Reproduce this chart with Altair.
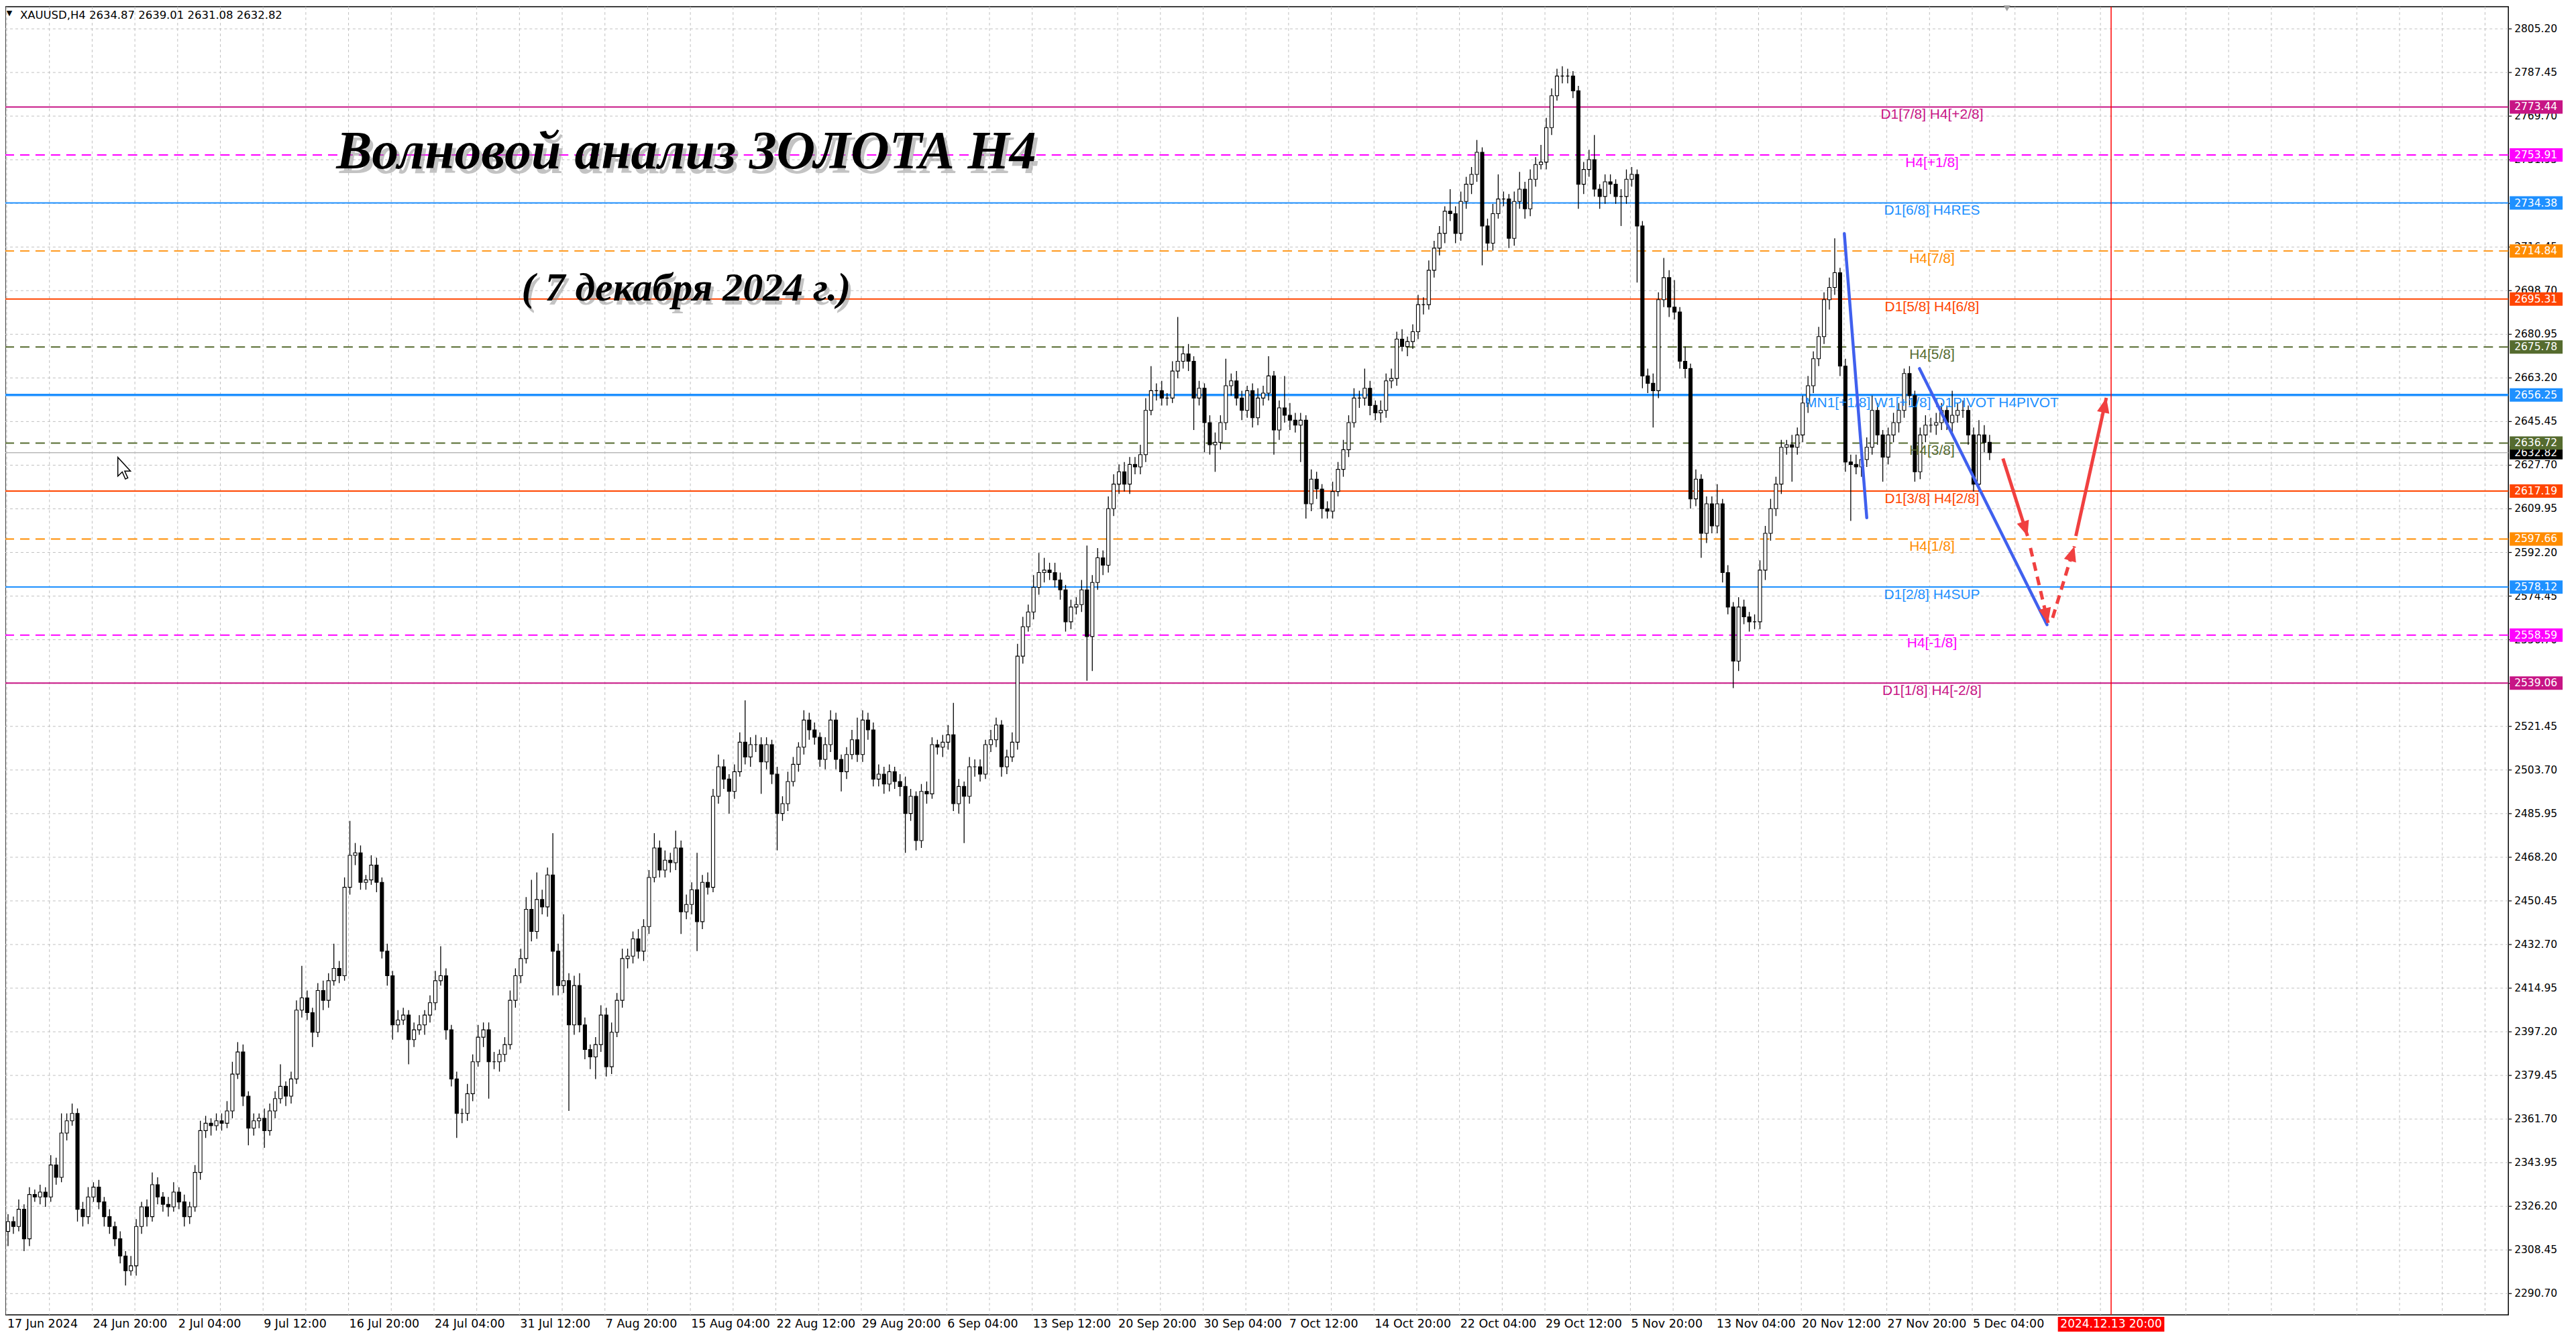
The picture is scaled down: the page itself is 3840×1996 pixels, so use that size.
import altair as alt
import pandas as pd

# XAUUSD H4, 17 Jun - 6 Dec 2024 (each candle here spans two H4 bars)
first_open = 2316
closes = [
    2320, 2318, 2325, 2313, 2331, 2330, 2332, 2330, 2343, 2338,
    2356, 2361, 2364, 2325, 2322, 2330, 2334, 2328, 2322, 2318,
    2313, 2306, 2300, 2302, 2318, 2326, 2322, 2335, 2330, 2327,
    2326, 2332, 2328, 2322, 2326, 2340, 2357, 2360, 2359, 2361,
    2360, 2365, 2380, 2389, 2371, 2358, 2361, 2362, 2357, 2365,
    2370, 2375, 2371, 2378, 2406, 2411, 2405, 2397, 2414, 2410,
    2418, 2423, 2420, 2456, 2469, 2470, 2458, 2459, 2465, 2458,
    2430, 2420, 2400, 2402, 2404, 2394, 2398, 2400, 2404, 2409,
    2418, 2420, 2398, 2378, 2364, 2364, 2372, 2385, 2395, 2398,
    2385, 2385, 2388, 2392, 2410, 2420, 2427, 2447, 2438, 2451,
    2448, 2461, 2430, 2416, 2418, 2400, 2416, 2400, 2390, 2387,
    2392, 2404, 2383, 2397, 2410, 2427, 2428, 2435, 2430, 2440,
    2460, 2472, 2463, 2467, 2466, 2472, 2446, 2449, 2455, 2442,
    2458, 2456, 2493, 2505, 2500, 2495, 2503, 2515, 2509, 2514,
    2514, 2507, 2514, 2502, 2486, 2490, 2499, 2506, 2513, 2524,
    2520, 2517, 2508, 2514, 2524, 2508, 2503, 2510, 2516, 2510,
    2524, 2520, 2500, 2502, 2498, 2503, 2499, 2497, 2486, 2493,
    2475, 2495, 2494, 2514, 2513, 2515, 2518, 2490, 2497, 2493,
    2505, 2505, 2502, 2514, 2516, 2522, 2505, 2509, 2515, 2550,
    2562, 2568, 2578, 2584, 2585, 2584, 2581, 2577, 2564, 2570,
    2571, 2577, 2558, 2580, 2590, 2587, 2610, 2620, 2625, 2620,
    2628, 2627, 2632, 2650, 2658, 2658, 2655, 2655, 2666, 2670,
    2673, 2670, 2655, 2659, 2645, 2636, 2637, 2645, 2660, 2662,
    2655, 2650, 2658, 2647, 2655, 2657, 2664, 2642, 2651, 2648,
    2646, 2644, 2646, 2612, 2622, 2618, 2610, 2609, 2617, 2626,
    2634, 2645, 2655, 2655, 2659, 2652, 2649, 2650, 2662, 2663,
    2679, 2676, 2678, 2682, 2693, 2693, 2707, 2716, 2722, 2731,
    2730, 2722, 2735, 2742, 2746, 2755, 2725, 2718, 2730, 2736,
    2736, 2720, 2735, 2740, 2732, 2744, 2750, 2751, 2765, 2778,
    2786, 2786, 2786, 2780, 2742, 2748, 2752, 2740, 2737, 2743,
    2742, 2737, 2737, 2744, 2746, 2725, 2664, 2661, 2658, 2695,
    2704, 2692, 2690, 2670, 2667, 2614, 2622, 2600, 2612, 2603,
    2612, 2584, 2570, 2548, 2570, 2566, 2564, 2564, 2585, 2600,
    2610, 2620, 2635, 2636, 2635, 2640, 2653, 2660, 2671, 2680,
    2695, 2700, 2706, 2668, 2629, 2628, 2627, 2630, 2635, 2650,
    2640, 2631, 2640, 2645, 2650, 2665, 2656, 2625, 2640, 2644,
    2644, 2645, 2650, 2645, 2648, 2650, 2650, 2640, 2620, 2640,
    2637, 2632.82,
]
upper_wick = [
    3, 2, 4, 2, 3, 2, 3, 2, 4, 3, 8, 3, 4, 2, 3, 4, 2, 3, 2, 3,
    2, 3, 2, 4, 3, 2, 3, 5, 3, 2, 3, 4, 2, 3, 2, 3, 4, 3, 2, 3,
    3, 4, 5, 4, 3, 2, 3, 2, 4, 3, 3, 9, 2, 3, 4, 13, 3, 2, 3, 4,
    3, 10, 3, 4, 14, 4, 3, 2, 4, 3, 2, 3, 2, 4, 3, 2, 3, 4, 2, 3,
    4, 12, 3, 2, 3, 2, 4, 3, 5, 3, 3, 4, 2, 3, 4, 3, 4, 5, 12, 11,
    4, 3, 17, 3, 27, 3, 4, 5, 3, 2, 3, 4, 3, 4, 3, 4, 3, 3, 4, 3,
    3, 6, 3, 4, 3, 7, 3, 4, 3, 15, 3, 4, 3, 5, 3, 2, 3, 4, 17, 3,
    4, 3, 3, 2, 3, 3, 4, 3, 2, 4, 3, 3, 2, 3, 4, 3, 2, 3, 4, 9,
    4, 3, 3, 4, 3, 3, 2, 3, 4, 3, 2, 3, 4, 3, 2, 3, 4, 13, 3, 2,
    4, 3, 3, 2, 4, 3, 2, 3, 4, 5, 4, 3, 5, 8, 5, 3, 4, 3, 2, 3,
    3, 4, 18, 3, 4, 3, 5, 4, 3, 4, 3, 3, 4, 5, 10, 3, 4, 2, 4, 18,
    3, 4, 2, 3, 2, 3, 4, 3, 11, 3, 4, 3, 2, 3, 4, 3, 8, 2, 3, 13,
    5, 3, 3, 2, 4, 3, 2, 3, 4, 3, 4, 3, 4, 3, 8, 3, 2, 4, 3, 4,
    3, 4, 2, 3, 4, 3, 4, 3, 3, 2, 9, 3, 4, 3, 3, 5, 2, 3, 4, 10,
    3, 2, 4, 7, 3, 4, 3, 7, 4, 3, 3, 4, 3, 2, 2, 3, 4, 10, 2, 3,
    3, 2, 3, 4, 3, 2, 2, 3, 4, 3, 8, 3, 11, 2, 6, 2, 4, 2, 3, 3,
    8, 2, 3, 2, 4, 3, 2, 3, 4, 3, 4, 3, 3, 2, 4, 3, 3, 4, 3, 4,
    3, 4, 14, 2, 3, 3, 4, 3, 4, 6, 3, 2, 3, 4, 3, 2, 3, 2, 3, 4,
    3, 4, 3, 2, 10, 3, 4, 2, 3, 6, 4, 3,
]
lower_wick = [
    6, 3, 2, 5, 3, 2, 3, 4, 2, 3, 2, 3, 2, 5, 4, 3, 2, 3, 4, 3,
    3, 3, 6, 2, 4, 3, 4, 2, 3, 3, 4, 2, 3, 4, 3, 2, 3, 3, 4, 2,
    3, 2, 3, 2, 4, 7, 3, 3, 7, 2, 3, 2, 4, 3, 2, 3, 3, 6, 2, 4,
    3, 2, 3, 2, 3, 4, 3, 3, 2, 4, 3, 4, 6, 3, 2, 10, 3, 2, 4, 3,
    3, 2, 4, 3, 10, 4, 3, 3, 2, 4, 15, 3, 4, 3, 2, 3, 3, 2, 4, 3,
    3, 4, 18, 4, 3, 35, 4, 3, 4, 5, 9, 3, 4, 3, 2, 3, 4, 3, 3, 4,
    3, 2, 3, 3, 4, 3, 9, 3, 4, 12, 3, 3, 2, 3, 4, 9, 3, 2, 3, 4,
    3, 13, 3, 4, 15, 3, 3, 2, 3, 3, 4, 3, 3, 4, 3, 4, 8, 3, 2, 3,
    3, 4, 3, 3, 4, 3, 3, 4, 16, 3, 4, 3, 4, 2, 3, 4, 3, 3, 4, 19,
    3, 4, 3, 2, 3, 3, 4, 3, 2, 3, 3, 2, 3, 3, 4, 3, 3, 4, 4, 3,
    3, 3, 18, 14, 3, 4, 3, 3, 4, 3, 4, 3, 3, 3, 2, 4, 3, 3, 2, 3,
    3, 4, 13, 3, 12, 4, 11, 3, 3, 4, 3, 4, 3, 4, 3, 3, 3, 10, 4, 3,
    4, 3, 15, 6, 3, 4, 4, 3, 3, 2, 3, 3, 2, 4, 3, 4, 3, 4, 3, 3,
    3, 2, 4, 3, 3, 4, 2, 3, 3, 4, 3, 4, 3, 3, 4, 3, 16, 3, 3, 2,
    3, 4, 3, 3, 4, 3, 3, 2, 3, 3, 2, 3, 3, 3, 10, 4, 3, 3, 5, 3,
    4, 3, 12, 3, 3, 23, 5, 4, 15, 3, 3, 4, 3, 3, 4, 4, 3, 10, 4, 3,
    3, 4, 3, 11, 4, 3, 4, 3, 3, 4, 3, 3, 4, 3, 14, 3, 3, 4, 3, 3,
    3, 4, 3, 4, 4, 23, 3, 4, 3, 3, 4, 10, 3, 3, 4, 3, 4, 4, 3, 3,
    3, 4, 3, 3, 4, 3, 3, 4, 3, 3, 4, 3,
]

# Murrey math levels drawn on the chart
level_prices = [2773.44, 2753.91, 2734.38, 2714.84, 2695.31, 2675.78, 2656.25,
                2636.72, 2617.19, 2597.66, 2578.12, 2558.59, 2539.06]
level_names = ["D1[7/8] H4[+2/8]", "H4[+1/8]", "D1[6/8] H4RES", "H4[7/8]",
               "D1[5/8] H4[6/8]", "H4[5/8]", "MN1[+1/8] W1[+1/8] D1PIVOT H4PIVOT",
               "H4[3/8]", "D1[3/8] H4[2/8]", "H4[1/8]", "D1[2/8] H4SUP",
               "H4[-1/8]", "D1[1/8] H4[-2/8]"]
level_colors = ["#C71585", "#FF00FF", "#1E90FF", "#FF8C00", "#FF4500", "#556B2F",
                "#1E90FF", "#556B2F", "#FF4500", "#FF8C00", "#1E90FF", "#FF00FF",
                "#C71585"]
level_dashed = [False, True, False, True, False, True, False,
                True, False, True, False, True, False]

price_ticks = [2805.20, 2787.45, 2769.70, 2751.95, 2734.20, 2716.45, 2698.70,
               2680.95, 2663.20, 2645.45, 2627.70, 2609.95, 2592.20, 2574.45,
               2556.70, 2538.95, 2521.45, 2503.70, 2485.95, 2468.20, 2450.45,
               2432.70, 2414.95, 2397.20, 2379.45, 2361.70, 2343.95, 2326.20,
               2308.45, 2290.70]
date_labels = ["17 Jun 2024", "24 Jun 20:00", "2 Jul 04:00", "9 Jul 12:00",
               "16 Jul 20:00", "24 Jul 04:00", "31 Jul 12:00", "7 Aug 20:00",
               "15 Aug 04:00", "22 Aug 12:00", "29 Aug 20:00", "6 Sep 04:00",
               "13 Sep 12:00", "20 Sep 20:00", "30 Sep 04:00", "7 Oct 12:00",
               "14 Oct 20:00", "22 Oct 04:00", "29 Oct 12:00", "5 Nov 20:00",
               "13 Nov 04:00", "20 Nov 12:00", "27 Nov 20:00", "5 Dec 04:00"]
bars_per_label = 32
current_price = 2632.82
future_bar = 788
future_label = "2024.12.13 20:00"
header = "XAUUSD,H4  2634.87 2639.01 2631.08 2632.82"

# hand-drawn blue wave lines (bar index, price)
wave_bar0 = [688.1, 716.25]
wave_price0 = [2721.9, 2667.0]
wave_bar1 = [696.5, 764.0]
wave_price1 = [2606.3, 2562.8]

# red forecast arrows: solid down, dashed down, dashed up, solid up
arrow_bar0 = [747.5, 757.8, 766.1, 774.8]
arrow_price0 = [2630.4, 2594.0, 2565.6, 2598.9]
arrow_bar1 = [756.7, 764.4, 774.25, 786.2]
arrow_price1 = [2598.9, 2563.5, 2594.7, 2655.1]
arrow_dashed = [False, True, True, False]
arrow_angle = [162, 167, 17, 12]

# ---- tables ----
opens = [first_open] + closes[:-1]
candles = pd.DataFrame({
    "bar": [2 * i + 0.5 for i in range(len(closes))],
    "open": opens,
    "close": closes,
})
candles["high"] = candles[["open", "close"]].max(axis=1) + upper_wick
candles["low"] = candles[["open", "close"]].min(axis=1) - lower_wick

levels = pd.DataFrame({
    "price": level_prices, "name": level_names, "color": level_colors,
    "dashed": level_dashed,
    "width": [3.5 if n.startswith("MN1") else 2 for n in level_names],
    "label": [f"{p:.2f}" for p in level_prices],
})
ticks = pd.DataFrame({"price": price_ticks, "label": [f"{p:.2f}" for p in price_ticks]})
vgrid = pd.DataFrame({"bar": list(range(0, 936, 16))})
dates = pd.DataFrame({
    "bar": [i * bars_per_label for i in range(len(date_labels))],
    "label": date_labels,
})
waves = pd.DataFrame({"b0": wave_bar0, "p0": wave_price0,
                      "b1": wave_bar1, "p1": wave_price1})
arrows = pd.DataFrame({"b0": arrow_bar0, "p0": arrow_price0,
                       "b1": arrow_bar1, "p1": arrow_price1,
                       "dashed": arrow_dashed, "angle": arrow_angle})
now = pd.DataFrame({"price": [current_price], "label": [f"{current_price:.2f}"]})
future = pd.DataFrame({"bar": [future_bar], "label": [future_label]})

W, H = 3739, 1954
xs = alt.Scale(domain=[0.75, 935.5], nice=False, zero=False)
ys = alt.Scale(domain=[2282.05, 2814.19], nice=False, zero=False)

RED = "#F04040"
BLUE = "#4060EE"
GRID = "#c0c0c0"
box_path = "M-1,-0.2532L1,-0.2532L1,0.2532L-1,0.2532Z"
date_box = "M-1,-0.1384L1,-0.1384L1,0.1384L-1,0.1384Z"
head_path = "M0,0L-0.42,1L0.42,1Z"
cursor_path = "M0,0L0,0.85L0.2,0.66L0.34,0.98L0.45,0.93L0.31,0.62L0.57,0.62Z"


def X(field):
    return alt.X(field, type="quantitative", scale=xs, axis=None)


def Y(field):
    return alt.Y(field, type="quantitative", scale=ys, axis=None)


# grid, ticks and price labels drawn as marks
hgrid = alt.Chart(ticks).mark_rule(color=GRID, strokeWidth=1, strokeDash=[4, 4]).encode(
    y=Y("price"))
vgrid_lines = alt.Chart(vgrid).mark_rule(color=GRID, strokeWidth=1, strokeDash=[4, 4]).encode(
    x=X("bar"))
tick_marks = alt.Chart(ticks).mark_rule(color="black", strokeWidth=1.2).encode(
    y=Y("price"), x=alt.value(W), x2=alt.value(W + 5))
tick_text = alt.Chart(ticks).mark_text(
    font="DejaVu Sans", fontSize=15.5, color="black", align="left", baseline="middle"
).encode(x=alt.value(W + 9), y=Y("price"), text="label:N")

solid_levels = alt.Chart(levels).transform_filter("!datum.dashed").mark_rule().encode(
    y=Y("price"), color=alt.Color("color:N", scale=None),
    strokeWidth=alt.StrokeWidth("width:Q", scale=None))
dashed_levels = alt.Chart(levels).transform_filter("datum.dashed").mark_rule(
    strokeDash=[14, 9], strokeWidth=2).encode(
    y=Y("price"), color=alt.Color("color:N", scale=None))
now_line = alt.Chart(now).mark_rule(color="#b8b8b8", strokeWidth=1.5).encode(y=Y("price"))
future_line = alt.Chart(future).mark_rule(color="#FF0000", strokeWidth=1.5).encode(x=X("bar"))

wicks = alt.Chart(candles).mark_rule(color="black", strokeWidth=1.3).encode(
    x=X("bar"), y=Y("low"), y2="high")
bodies = alt.Chart(candles).mark_bar(size=5, stroke="black", strokeWidth=1.1).encode(
    x=X("bar"), y=Y("open"), y2="close",
    fill=alt.condition("datum.close >= datum.open", alt.value("white"), alt.value("black")))

level_text = alt.Chart(levels).mark_text(
    font="Liberation Sans", fontSize=21, align="center", baseline="middle", dy=12
).encode(x=alt.value(2878), y=Y("price"), text="name:N",
         color=alt.Color("color:N", scale=None))

wave_lines = alt.Chart(waves).mark_rule(color=BLUE, strokeWidth=4.5, strokeCap="round").encode(
    x=X("b0"), y=Y("p0"), x2="b1", y2="p1")
arrow_solid = alt.Chart(arrows).transform_filter("!datum.dashed").mark_rule(
    color=RED, strokeWidth=5).encode(x=X("b0"), y=Y("p0"), x2="b1", y2="p1")
arrow_dash = alt.Chart(arrows).transform_filter("datum.dashed").mark_rule(
    color=RED, strokeWidth=5, strokeDash=[13, 9]).encode(
    x=X("b0"), y=Y("p0"), x2="b1", y2="p1")
arrow_heads = alt.Chart(arrows).mark_point(
    shape=head_path, size=2000, filled=True, color=RED, opacity=1, strokeWidth=0
).encode(x=X("b1"), y=Y("p1"), angle=alt.Angle("angle:Q", scale=None))

now_box = alt.Chart(now).mark_point(
    shape=box_path, size=79 * 79, filled=True, color="black", opacity=1, strokeWidth=0
).encode(x=alt.value(3780.5), y=Y("price"))
now_txt = alt.Chart(now).mark_text(
    font="DejaVu Sans", fontSize=15.5, color="white", align="left", baseline="middle"
).encode(x=alt.value(W + 9), y=Y("price"), text="label:N")
level_box = alt.Chart(levels).mark_point(
    shape=box_path, size=79 * 79, filled=True, opacity=1, strokeWidth=0
).encode(x=alt.value(3780.5), y=Y("price"), color=alt.Color("color:N", scale=None))
level_box_txt = alt.Chart(levels).mark_text(
    font="DejaVu Sans", fontSize=15.5, color="white", align="left", baseline="middle"
).encode(x=alt.value(W + 9), y=Y("price"), text="label:N")

date_text = alt.Chart(dates).mark_text(
    font="DejaVu Sans", fontSize=17.5, color="black", align="left", baseline="middle", dx=1
).encode(x=X("bar"), y=alt.value(1968), text="label:N")
future_box = alt.Chart(future).mark_point(
    shape=date_box, size=159 * 159, filled=True, color="#FF0000", opacity=1, strokeWidth=0
).encode(x=X("bar"), y=alt.value(1968))
future_txt = alt.Chart(future).mark_text(
    font="DejaVu Sans", fontSize=17, color="white", align="center", baseline="middle"
).encode(x=X("bar"), y=alt.value(1968), text="label:N")

head_df = pd.DataFrame({"t": [header]})
head_mark = alt.Chart(head_df).mark_text(
    text="\u25bc", font="DejaVu Sans", fontSize=11, color="black", baseline="middle"
).encode(x=alt.value(6), y=alt.value(10))
head_txt = alt.Chart(head_df).mark_text(
    font="DejaVu Sans", fontSize=16.5, color="black", align="left", baseline="alphabetic"
).encode(x=alt.value(22), y=alt.value(18), text="t:N")
shift_mark = alt.Chart(head_df).mark_point(
    shape="triangle-down", size=180, filled=True, color="#a0a0a0", opacity=1
).encode(x=alt.value(2990), y=alt.value(1))
cursor = alt.Chart(head_df).mark_point(
    shape=cursor_path, size=4400, filled=True, fill="white", stroke="black",
    strokeWidth=1.5, opacity=1
).encode(x=alt.value(168), y=alt.value(673))

title_df = pd.DataFrame({"t": ["Волновой анализ ЗОЛОТА Н4"]})
sub_df = pd.DataFrame({"t": ["( 7 декабря 2024 г.)"]})
tfont = dict(font="Liberation Serif", fontStyle="italic", fontWeight="bold", align="center")
title_shadow = alt.Chart(title_df).mark_text(
    fontSize=80, color="#888888", opacity=0.5, **tfont
).encode(x=alt.value(1022), y=alt.value(224), text="t:N")
title_txt = alt.Chart(title_df).mark_text(fontSize=80, color="black", **tfont).encode(
    x=alt.value(1017), y=alt.value(217), text="t:N")
sub_shadow = alt.Chart(sub_df).mark_text(
    fontSize=60, color="#888888", opacity=0.5, **tfont
).encode(x=alt.value(1021), y=alt.value(427), text="t:N")
sub_txt = alt.Chart(sub_df).mark_text(fontSize=60, color="black", **tfont).encode(
    x=alt.value(1017), y=alt.value(421), text="t:N")

chart = alt.layer(
    hgrid, vgrid_lines, tick_marks, tick_text,
    solid_levels, dashed_levels, now_line, future_line,
    wicks, bodies, level_text, wave_lines, arrow_solid, arrow_dash, arrow_heads,
    now_box, now_txt, level_box, level_box_txt,
    date_text, future_box, future_txt, head_mark, head_txt, shift_mark, cursor,
    title_shadow, title_txt, sub_shadow, sub_txt,
).properties(
    width=W, height=H,
    autosize=alt.AutoSizeParams(type="none"),
    padding={"left": 0, "top": 0, "right": 93, "bottom": 34},
    background="white",
).configure_view(stroke="black", strokeWidth=1.5)

chart.save("out.html", embed_options={"renderer": "svg", "actions": False})
